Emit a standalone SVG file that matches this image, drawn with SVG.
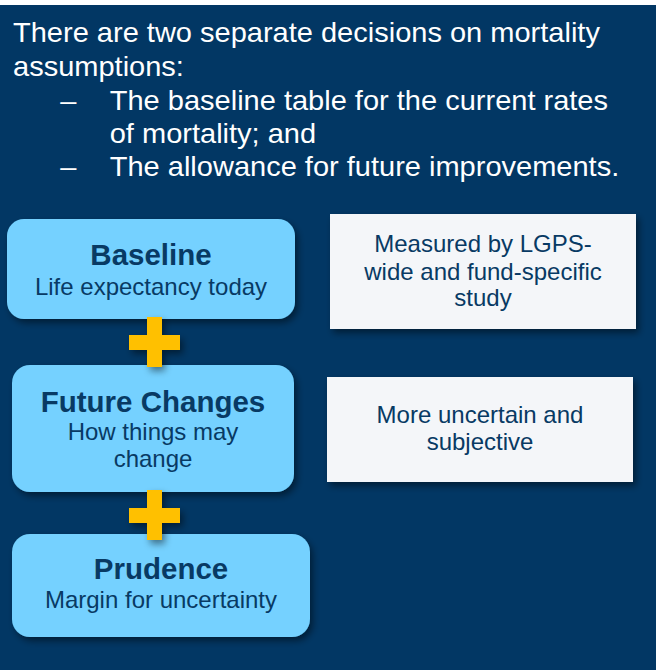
<svg xmlns="http://www.w3.org/2000/svg" width="656" height="670" viewBox="0 0 656 670">
  <defs>
    <filter id="shadow" x="-10%" y="-10%" width="130%" height="140%">
      <feDropShadow dx="3" dy="4" stdDeviation="3.5" flood-color="#000000" flood-opacity="0.45"/>
    </filter>
    <style>
      .hdr { font-family: "Liberation Sans", Arial, sans-serif; font-size: 27px; fill: #FFFFFF; }
      .step { fill: #75D1FF; filter: url(#shadow); }
      .note { fill: #F4F6F9; filter: url(#shadow); }
      .title { font-family: "Liberation Sans", Arial, sans-serif; font-size: 29.5px; font-weight: bold; fill: #083A64; text-anchor: middle; }
      .sub { font-family: "Liberation Sans", Arial, sans-serif; font-size: 24px; fill: #083A64; text-anchor: middle; }
      .plus { fill: #FFC000; filter: url(#shadow); }
    </style>
  </defs>

  <rect x="0" y="0" width="656" height="670" fill="#FFFFFF"/>
  <rect x="0" y="5" width="656" height="665" fill="#023764"/>

  <g id="header" transform="translate(13,0) scale(1.075,1)">
    <text class="hdr" x="0" y="42">There are two separate decisions on mortality</text>
    <text class="hdr" x="0" y="76">assumptions:</text>
    <text class="hdr" x="44" y="110">–</text>
    <text class="hdr" x="90" y="110">The baseline table for the current rates</text>
    <text class="hdr" x="90" y="143">of mortality; and</text>
    <text class="hdr" x="44" y="176">–</text>
    <text class="hdr" x="90" y="176">The allowance for future improvements.</text>
  </g>

  <g id="baseline">
    <rect class="step" x="7" y="219" width="288" height="100" rx="17"/>
    <text class="title" x="151" y="265">Baseline</text>
    <text class="sub" x="151" y="295">Life expectancy today</text>
  </g>

  <g id="future-changes">
    <rect class="step" x="12" y="365" width="282" height="127" rx="18"/>
    <text class="title" x="153" y="412">Future Changes</text>
    <text class="sub" x="153" y="440">How things may</text>
    <text class="sub" x="153" y="467">change</text>
  </g>

  <g id="prudence">
    <rect class="step" x="12" y="534" width="298" height="103" rx="18"/>
    <text class="title" x="161" y="579">Prudence</text>
    <text class="sub" x="161" y="608">Margin for uncertainty</text>
  </g>

  <g id="note-baseline">
    <rect class="note" x="330" y="214" width="306" height="115"/>
    <text class="sub" x="483" y="252">Measured by LGPS-</text>
    <text class="sub" x="483" y="280">wide and fund-specific</text>
    <text class="sub" x="483" y="306">study</text>
  </g>

  <g id="note-future">
    <rect class="note" x="327" y="377" width="306" height="105"/>
    <text class="sub" x="480" y="423">More uncertain and</text>
    <text class="sub" x="480" y="450">subjective</text>
  </g>

  <g id="connectors">
    <path class="plus" d="M147,317 H162 V335 H180 V350 H162 V367 H147 V350 H129 V335 H147 Z"/>
    <path class="plus" d="M147,490 H162 V508 H180 V523 H162 V540 H147 V523 H129 V508 H147 Z"/>
  </g>
</svg>
